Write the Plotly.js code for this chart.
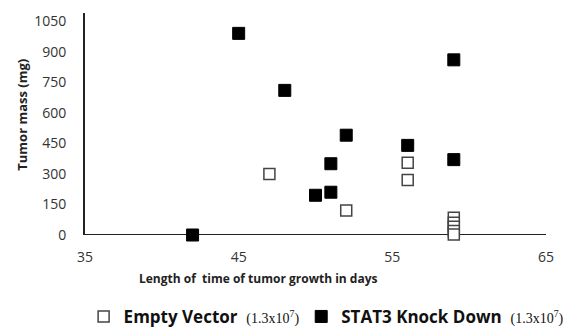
<!DOCTYPE html>
<html>
<head>
<meta charset="utf-8">
<script src="https://cdn.plot.ly/plotly-3.0.1.min.js"></script>
<style>html,body{margin:0;padding:0;background:#fff;}#chart{width:573px;height:331px;}</style>
</head>
<body>
<div id="chart"></div>
<script>
// Empty Vector series (days, tumor mass mg)
const emptyDays = [47, 52, 56, 56, 59, 59, 59, 59, 59];
const emptyMass = [300, 120, 355, 270, 85, 60, 40, 20, 3];
// STAT3 Knock Down series
const stat3Days = [42, 45, 48, 50, 51, 51, 52, 56, 59, 59];
const stat3Mass = [0, 990, 710, 195, 210, 350, 490, 440, 860, 370];

const yTicks = [0, 150, 300, 450, 600, 750, 900, 1050];
const xTicks = [35, 45, 55, 65];

const serifSpan = " <span style=\"font-family:'Liberation Serif';font-weight:normal;font-size:14px\">(1.3x10<sup>7</sup>)</span>";
const traces = [
  {
    type: 'scatter', mode: 'markers', x: emptyDays, y: emptyMass,
    name: "<b>Empty Vector</b>\u00A0" + serifSpan,
    marker: {symbol: 'square', size: 11, color: '#ffffff', line: {color: '#444', width: 1.5}},
    cliponaxis: false, legend: 'legend'
  },
  {
    type: 'scatter', mode: 'markers', x: stat3Days, y: stat3Mass,
    name: "<b>STAT3 Knock Down</b>\u00A0" + serifSpan,
    marker: {symbol: 'square', size: 12, color: '#000000', line: {color: '#000', width: 1}},
    cliponaxis: false, legend: 'legend2'
  }
];

const legendFont = {family: "'Open Sans', sans-serif", size: 17, color: '#111'};
const layout = {
  width: 573, height: 331,
  margin: {l: 85, r: 27, t: 13, b: 96, autoexpand: false},
  paper_bgcolor: '#fff', plot_bgcolor: '#fff',
  font: {family: "'Open Sans', sans-serif", color: '#222', size: 12},
  showlegend: true,
  legend: {
    orientation: 'h', x: -0.003, xanchor: 'left', y: -0.369, yanchor: 'middle',
    font: legendFont, itemwidth: 30, bgcolor: 'rgba(0,0,0,0)'
  },
  legend2: {
    orientation: 'h', x: 0.469, xanchor: 'left', y: -0.369, yanchor: 'middle',
    font: legendFont, itemwidth: 30, bgcolor: 'rgba(0,0,0,0)'
  },
  xaxis: {
    range: [35, 65], tickvals: xTicks, ticktext: xTicks.map(String),
    showgrid: false, zeroline: false, showline: false,
    ticks: '', ticklabelstandoff: 12,
    tickfont: {family: "'Open Sans', sans-serif", size: 14, color: '#333'}
  },
  yaxis: {
    range: [0, 1090], tickvals: yTicks, ticktext: yTicks.map(String),
    showgrid: false, zeroline: false, showline: true, linecolor: '#222', linewidth: 2,
    ticks: '', ticklabelstandoff: 14,
    tickfont: {family: "'Open Sans', sans-serif", size: 14, color: '#333'}
  },
  shapes: [
    {type: 'line', xref: 'x', yref: 'y', x0: 35, x1: 65, y0: 0, y1: 0, line: {color: '#222', width: 2}, layer: 'below'}
  ],
  annotations: [
    {xref: 'paper', yref: 'paper', x: 0.376, y: -0.194, xanchor: 'center', yanchor: 'middle',
     text: '<b>Length of\u00A0 time of tumor growth in days</b>', showarrow: false,
     font: {size: 12, color: '#222'}},
    {xref: 'paper', yref: 'paper', x: -0.137, y: 0.541, xanchor: 'center', yanchor: 'middle',
     textangle: -90, text: '<b>Tumor mass (mg)</b>', showarrow: false,
     font: {size: 13, color: '#222'}}
  ]
};

Plotly.newPlot('chart', traces, layout, {displayModeBar: false, staticPlot: true});
</script>
</body>
</html>
